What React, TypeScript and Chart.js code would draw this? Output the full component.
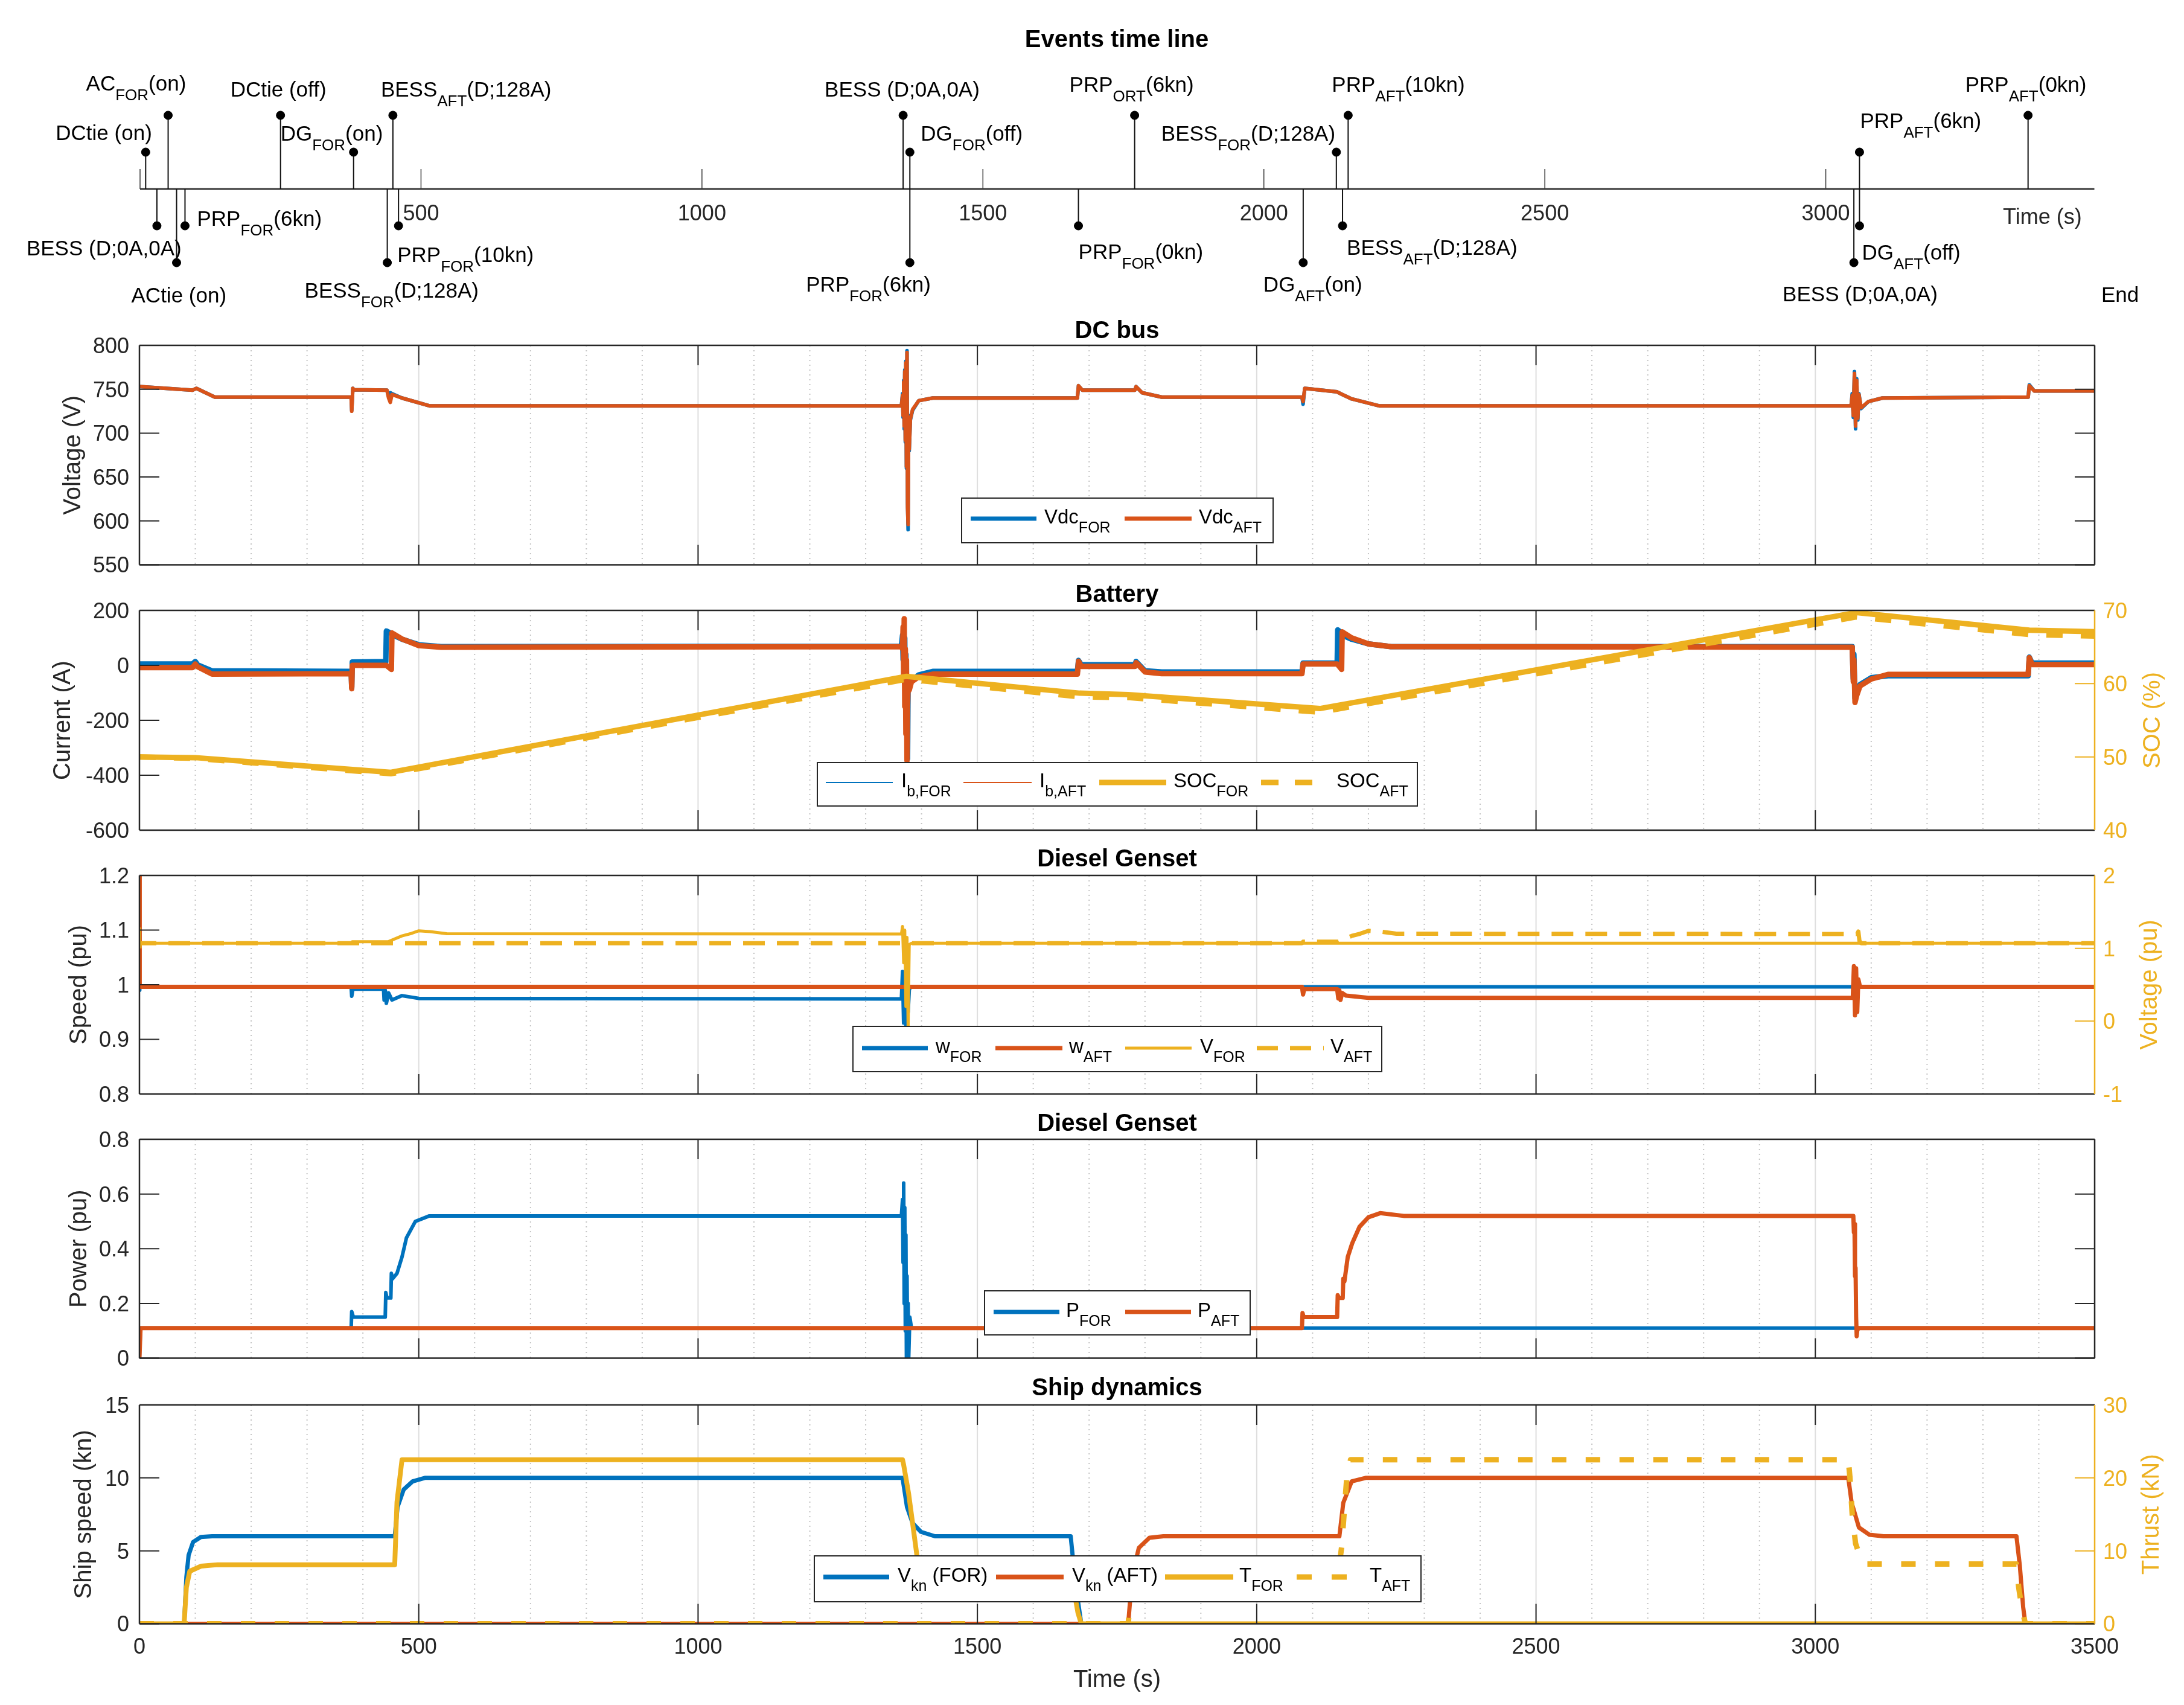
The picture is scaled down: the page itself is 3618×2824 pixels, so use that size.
import React, { useEffect, useRef } from "react";
import { Chart, registerables } from "chart.js";

Chart.register(...registerables);

const W = 3618;
const H = 2824;
const FONT = "'Liberation Sans', Arial, Helvetica, sans-serif";
const BLUE = "#0072BD";
const ORANGE = "#D95319";
const YELLOW = "#EDB120";
const INK = "#262626";
const GRID_MAJOR = "#dedede";
const GRID_MINOR = "#c4c4c4";

// ================= DATA =================
// shared time axis ticks
const xTicks = [0, 500, 1000, 1500, 2000, 2500, 3000, 3500];
const xMinorTicks = [100, 200, 300, 400, 600, 700, 800, 900, 1100, 1200, 1300, 1400, 1600, 1700, 1800, 1900, 2100, 2200, 2300, 2400, 2600, 2700, 2800, 2900, 3100, 3200, 3300, 3400];

// Events time line
const timelineTicks = [0, 500, 1000, 1500, 2000, 2500, 3000];
const timelineTickLabels = [500, 1000, 1500, 2000, 2500, 3000];
const timelineEnd = 3478;
const eventTimes = [10, 50, 250, 380, 450, 1358, 1370, 1770, 2129, 2150, 3060, 3360, 30, 65, 80, 440, 460, 1370, 1670, 2070, 2140, 3050, 3060];
const eventLevels = [1, 2, 2, 1, 2, 2, 1, 2, 1, 2, 1, 2, -1, -2, -1, -2, -1, -2, -1, -2, -1, -2, -1];
const eventLabels = [
  "DCtie (on)", "AC_{FOR}(on)", "DCtie (off)", "DG_{FOR}(on)", "BESS_{AFT}(D;128A)", "BESS (D;0A,0A)",
  "DG_{FOR}(off)", "PRP_{ORT}(6kn)", "BESS_{FOR}(D;128A)", "PRP_{AFT}(10kn)", "PRP_{AFT}(6kn)", "PRP_{AFT}(0kn)",
  "BESS (D;0A,0A)", "ACtie (on)", "PRP_{FOR}(6kn)", "BESS_{FOR}(D;128A)", "PRP_{FOR}(10kn)", "PRP_{FOR}(6kn)",
  "PRP_{FOR}(0kn)", "DG_{AFT}(on)", "BESS_{AFT}(D;128A)", "BESS (D;0A,0A)", "DG_{AFT}(off)",
];

// DC bus
const dcTicks = [550, 600, 650, 700, 750, 800];
const vdcT = [0, 95, 102, 135, 379, 380, 382, 384, 443, 446, 449, 452, 470, 520, 1364, 1366, 1367, 1368, 1369, 1370, 1371, 1372, 1373, 1374, 1375, 1376, 1377, 1378, 1380, 1384, 1395, 1420, 1679, 1681, 1688, 1782, 1784, 1795, 1830, 2081, 2083, 2086, 2144, 2150, 2170, 2220, 3064, 3066, 3068, 3070, 3072, 3074, 3076, 3078, 3082, 3095, 3120, 3381, 3383, 3392, 3500];
const vdcFor = [753, 749, 751, 741, 741, 726, 751, 749.5, 749, 742, 746, 745, 740, 731, 731, 745, 718, 760, 705, 772, 690, 782, 660, 794, 620, 590, 720, 680, 715, 726, 737, 740, 740, 754, 749, 749, 753, 746, 741, 741, 733, 751, 747, 745, 739, 731, 731, 745, 718, 770, 705, 762, 715, 745, 728, 736, 740, 741, 755, 748, 748];
const vdcAft = [753, 749, 751, 741, 741, 725, 751, 749.5, 749, 740, 735, 744, 740, 731, 731, 743, 720, 758, 708, 770, 692, 780, 662, 792, 615, 596, 718, 682, 716, 727, 737, 740, 740, 754, 749, 749, 753, 746, 741, 741, 736, 751, 747, 745, 739, 731, 731, 743, 720, 768, 708, 760, 717, 744, 729, 736, 740, 741, 754, 748, 748];

// Battery
const ibTicks = [-600, -400, -200, 0, 200];
const socTicks = [40, 50, 60, 70];
const ibT = [0, 95, 100, 104, 130, 379, 380, 381, 441, 442, 451, 452, 470, 500, 540, 1364, 1366, 1367, 1368, 1369, 1370, 1371, 1372, 1373, 1374, 1375, 1376, 1378, 1382, 1395, 1420, 1679, 1681, 1686, 1782, 1784, 1800, 1830, 2081, 2083, 2144, 2145, 2152, 2153, 2170, 2200, 2240, 3066, 3068, 3069, 3071, 3074, 3080, 3100, 3130, 3381, 3383, 3388, 3500];
const ibFor = [5, 5, 14, 2, -20, -22, -80, 12, 14, 125, 116, 112, 95, 75, 68, 70, 110, 20, 125, -60, 100, -150, 40, -250, -100, -340, -50, -80, -55, -35, -22, -22, 18, 2, 2, 14, -20, -24, -24, 8, 8, 129, 118, 110, 95, 78, 68, 68, -50, 40, -120, -95, -70, -45, -38, -38, 30, 8, 8];
const ibAft = [-8, -8, 5, -5, -32, -30, -85, 0, 0, 0, -15, 118, 96, 72, 66, 68, 60, 140, -40, 170, -150, 60, -250, 20, -347, -150, -60, -90, -60, -42, -32, -32, 15, -4, -4, 10, -24, -30, -30, 5, 5, 3, -15, 122, 100, 78, 68, 66, -60, 20, -135, -110, -75, -50, -33, -33, 28, 3, 3];
const socT = [0, 100, 450, 1373, 1683, 1770, 2113, 3073, 3383, 3500];
const socFor = [50, 49.9, 47.9, 61.0, 58.7, 58.5, 56.6, 69.7, 67.3, 67.1];
const socAft = [50, 49.8, 47.7, 60.6, 58.2, 58.1, 56.1, 69.1, 66.7, 66.5];

// Diesel genset - speed & voltage
const wTicks = [0.8, 0.9, 1, 1.1, 1.2];
const vpuTicks = [-1, 0, 1, 2];
const wT = [0, 0.5, 379, 380, 382, 437, 438, 440, 442, 446, 452, 470, 500, 1364, 1366, 1368, 1370, 1372, 1374, 1376, 1378, 1380, 2081, 2083, 2085, 2144, 2146, 2148, 2150, 2153, 2160, 2200, 3067, 3069, 3071, 3073, 3075, 3077, 3080, 3500];
const wFor = [0.99, 0.996, 0.996, 0.979, 0.992, 0.992, 0.972, 0.99, 0.966, 0.985, 0.972, 0.98, 0.975, 0.974, 1.024, 0.93, 1.02, 0.925, 1.01, 0.95, 0.99, 0.996, 0.996, 0.996, 0.996, 0.996, 0.996, 0.996, 0.996, 0.996, 0.996, 0.996, 0.996, 0.996, 0.996, 0.996, 0.996, 0.996, 0.996, 0.996];
const wAft = [1.2, 0.996, 0.996, 0.996, 0.996, 0.996, 0.996, 0.996, 0.996, 0.996, 0.996, 0.996, 0.996, 0.996, 0.996, 0.996, 0.996, 0.996, 0.996, 0.996, 0.996, 0.996, 0.996, 0.982, 0.992, 0.992, 0.975, 0.99, 0.972, 0.985, 0.98, 0.976, 0.976, 1.034, 0.944, 1.03, 0.95, 1.01, 0.996, 0.996];
const vT = [0, 0.5, 379, 381, 445, 470, 485, 500, 520, 550, 1364, 1366, 1368, 1370, 1372, 1374, 1376, 1378, 1382, 2081, 2083, 2145, 2170, 2185, 2200, 2220, 2250, 3075, 3077, 3079, 3082, 3500];
const vFor = [1.27, 1.07, 1.07, 1.09, 1.09, 1.17, 1.2, 1.24, 1.23, 1.2, 1.196, 1.3, 0.8, 1.25, 0.2, 1.15, -0.1, 1.05, 1.07, 1.07, 1.07, 1.07, 1.07, 1.07, 1.07, 1.07, 1.07, 1.07, 1.07, 1.07, 1.07, 1.07];
const vAft = [1.0, 1.07, 1.07, 1.07, 1.07, 1.07, 1.07, 1.07, 1.07, 1.07, 1.07, 1.07, 1.07, 1.07, 1.07, 1.07, 1.07, 1.07, 1.07, 1.07, 1.09, 1.09, 1.17, 1.2, 1.24, 1.23, 1.2, 1.196, 1.23, 1.1, 1.07, 1.07];

// Diesel genset - power
const pTicks = [0, 0.2, 0.4, 0.6, 0.8];
const pT = [0, 2, 379, 380, 383, 440, 441, 443, 450, 451, 453, 461, 470, 478, 494, 519, 1364, 1366, 1367, 1368, 1369, 1370, 1371, 1372, 1373, 1374, 1375, 1376, 1377, 1379, 1382, 2081, 2082, 2084, 2144, 2145, 2147, 2154, 2155, 2157, 2163, 2171, 2184, 2200, 2221, 2263, 3068, 3069, 3070, 3071, 3072, 3073, 3074, 3075, 3077, 3500];
const pFor = [0, 0.11, 0.11, 0.17, 0.15, 0.15, 0.24, 0.22, 0.22, 0.31, 0.29, 0.31, 0.37, 0.44, 0.5, 0.52, 0.52, 0.58, 0.35, 0.64, 0.2, 0.55, 0.1, 0.45, 0.0, 0.3, 0.05, 0.2, 0.0, 0.15, 0.11, 0.11, 0.11, 0.11, 0.11, 0.11, 0.11, 0.11, 0.11, 0.11, 0.11, 0.11, 0.11, 0.11, 0.11, 0.11, 0.11, 0.11, 0.11, 0.11, 0.11, 0.11, 0.11, 0.11, 0.11, 0.11];
const pAft = [0, 0.11, 0.11, 0.11, 0.11, 0.11, 0.11, 0.11, 0.11, 0.11, 0.11, 0.11, 0.11, 0.11, 0.11, 0.11, 0.11, 0.11, 0.11, 0.11, 0.11, 0.11, 0.11, 0.11, 0.11, 0.11, 0.11, 0.11, 0.11, 0.11, 0.11, 0.11, 0.165, 0.15, 0.15, 0.23, 0.22, 0.22, 0.29, 0.28, 0.37, 0.42, 0.48, 0.515, 0.53, 0.52, 0.52, 0.46, 0.49, 0.3, 0.33, 0.15, 0.08, 0.1, 0.11, 0.11];

// Ship dynamics
const knTicks = [0, 5, 10, 15];
const thrustTicks = [0, 10, 20, 30];
const vknForT = [0, 80, 84, 88, 96, 110, 130, 457, 462, 473, 489, 511, 1366, 1374, 1384, 1399, 1424, 1667, 1676, 1686, 3500];
const vknFor = [0, 0, 3.2, 4.7, 5.6, 5.95, 6.0, 6.0, 8.0, 9.2, 9.76, 10.0, 10.0, 8.0, 6.9, 6.3, 6.0, 6.0, 2.6, 0, 0];
const vknAftT = [0, 1770, 1777, 1789, 1808, 1833, 2148, 2155, 2170, 2195, 3059, 3065, 3078, 3097, 3122, 3360, 3366, 3372, 3376, 3500];
const vknAft = [0, 0, 3.3, 5.2, 5.9, 6.0, 6.0, 8.3, 9.76, 10.0, 10.0, 8.3, 6.6, 6.1, 6.0, 6.0, 4.0, 1.15, 0, 0];
const tForT = [0, 80, 84, 90, 110, 140, 457, 461, 470, 1366, 1368, 1377, 1384, 1392, 1400, 1420, 1666, 1672, 1680, 1686, 3500];
const tFor = [0, 0, 5, 7.2, 7.9, 8.1, 8.1, 16.7, 22.5, 22.5, 21.8, 17.8, 13.8, 9.2, 8.4, 8.1, 8.1, 5, 1.5, 0, 0];
const tAftT = [0, 1770, 1774, 1780, 1800, 1830, 2148, 2152, 2161, 2168, 3059, 3062, 3066, 3072, 3082, 3090, 3360, 3364, 3370, 3376, 3500];
const tAft = [0, 0, 4, 7, 8, 8.1, 8.1, 10.5, 19.8, 22.5, 22.5, 20, 15, 11, 8.8, 8.2, 8.2, 5, 2, 0, 0];

// ================= LAYOUT (pixels) =================
const PLOT_LEFT = 231;
const PLOT_RIGHT = 3470;
const TL_LEFT = 232;
const TL_RIGHT = 3490;
const TL_AXIS_Y = 313;
const eventLabelDx = [-149, -136, -83, -121, -20, -130, 18, -108, -290, -27, 1, -104, -216, -75, 20, -137, -2, -172, 0, -66, 7, -118, 4];
const eventLabelDy = [-94, -176, -166, -93, -166, -166, -93, -174, -93, -174, -114, -174, 97, 175, 48, 167, 108, 157, 103, 157, 96, 173, 104];

type Pt = { x: number; y: number | null };
const xy = (t: number[], v: number[]): Pt[] => t.map((x, i) => ({ x, y: v[i] }));

// ================= TEXT HELPERS =================
function setFont(ctx: CanvasRenderingContext2D, size: number, bold = false) {
  ctx.font = `${bold ? "bold " : ""}${size}px ${FONT}`;
}
function text(ctx: CanvasRenderingContext2D, s: string, x: number, yMid: number, size: number, o: { align?: CanvasTextAlign; bold?: boolean; color?: string } = {}) {
  setFont(ctx, size, o.bold);
  ctx.fillStyle = o.color || INK;
  ctx.textAlign = o.align || "left";
  ctx.textBaseline = "alphabetic";
  ctx.fillText(s, x, yMid + size * 0.358);
}
function vtext(ctx: CanvasRenderingContext2D, s: string, x: number, yMid: number, size: number, color: string) {
  ctx.save();
  ctx.translate(x, yMid);
  ctx.rotate(-Math.PI / 2);
  setFont(ctx, size);
  ctx.fillStyle = color;
  ctx.textAlign = "center";
  ctx.textBaseline = "middle";
  ctx.fillText(s, 0, 0);
  ctx.restore();
}
function parseRich(s: string) {
  const parts: { t: string; sub: boolean }[] = [];
  const re = /_\{([^}]*)\}/g;
  let last = 0;
  let m: RegExpExecArray | null;
  while ((m = re.exec(s))) {
    if (m.index > last) parts.push({ t: s.slice(last, m.index), sub: false });
    parts.push({ t: m[1], sub: true });
    last = re.lastIndex;
  }
  if (last < s.length) parts.push({ t: s.slice(last), sub: false });
  return parts;
}
function drawRich(ctx: CanvasRenderingContext2D, s: string, x: number, yMid: number, size: number, subSize: number, subShift: number, color = "#000") {
  const base = yMid + size * 0.358;
  let cx = x;
  ctx.fillStyle = color;
  ctx.textAlign = "left";
  ctx.textBaseline = "alphabetic";
  for (const p of parseRich(s)) {
    setFont(ctx, p.sub ? subSize : size);
    ctx.fillText(p.t, cx, p.sub ? base + subShift : base);
    cx += ctx.measureText(p.t).width;
  }
}
function seg(ctx: CanvasRenderingContext2D, x1: number, y1: number, x2: number, y2: number) {
  ctx.beginPath();
  ctx.moveTo(x1, y1);
  ctx.lineTo(x2, y2);
  ctx.stroke();
}

// ================= PANELS =================
interface SeriesSpec { t: number[]; v: number[]; color: string; width: number; dash?: number[]; axis?: string }
interface LegendItem { x1: number; x2: number; tx: number; label: string; color: string; width: number; dash?: number[] }
interface AxisSpec { min: number; max: number; ticks: number[]; label: string; labelX: number }
interface PanelSpec {
  key: string; top: number; height: number; plotTop: number; plotBottom: number;
  title: string; titleY: number; left: AxisSpec; right?: AxisSpec; series: SeriesSpec[];
  legend: { box: number[]; lineY: number; items: LegendItem[] }; xLabels?: boolean;
}

const panels: PanelSpec[] = [
  {
    key: "dc", top: 500, height: 475, plotTop: 572, plotBottom: 935.5, title: "DC bus", titleY: 546,
    left: { min: 550, max: 800, ticks: dcTicks, label: "Voltage (V)", labelX: 122 },
    series: [
      { t: vdcT, v: vdcFor, color: BLUE, width: 6 },
      { t: vdcT, v: vdcAft, color: ORANGE, width: 6 },
    ],
    legend: {
      box: [1593, 825, 2109, 899], lineY: 859, items: [
        { x1: 1608, x2: 1717, tx: 1730, label: "Vdc_{FOR}", color: BLUE, width: 7 },
        { x1: 1863, x2: 1974, tx: 1986, label: "Vdc_{AFT}", color: ORANGE, width: 7 },
      ],
    },
  },
  {
    key: "bat", top: 940, height: 475, plotTop: 1011, plotBottom: 1375, title: "Battery", titleY: 983,
    left: { min: -600, max: 200, ticks: ibTicks, label: "Current (A)", labelX: 105 },
    right: { min: 40, max: 70, ticks: socTicks, label: "SOC (%)", labelX: 3567 },
    series: [
      { t: ibT, v: ibFor, color: BLUE, width: 9 },
      { t: ibT, v: ibAft, color: ORANGE, width: 9 },
      { t: socT, v: socFor, color: YELLOW, width: 9, axis: "y2" },
      { t: socT, v: socAft, color: YELLOW, width: 9, dash: [27, 30], axis: "y2" },
    ],
    legend: {
      box: [1354, 1263, 2348, 1335], lineY: 1296, items: [
        { x1: 1368, x2: 1479, tx: 1493, label: "I_{b,FOR}", color: BLUE, width: 2 },
        { x1: 1596, x2: 1709, tx: 1722, label: "I_{b,AFT}", color: ORANGE, width: 2 },
        { x1: 1821, x2: 1932, tx: 1944, label: "SOC_{FOR}", color: YELLOW, width: 9 },
        { x1: 2089, x2: 2200, tx: 2214, label: "SOC_{AFT}", color: YELLOW, width: 9, dash: [29, 27] },
      ],
    },
  },
  {
    key: "spd", top: 1380, height: 470, plotTop: 1450, plotBottom: 1812, title: "Diesel Genset", titleY: 1421,
    left: { min: 0.8, max: 1.2, ticks: wTicks, label: "Speed (pu)", labelX: 132 },
    right: { min: -1, max: 2, ticks: vpuTicks, label: "Voltage (pu)", labelX: 3562 },
    series: [
      { t: wT, v: wFor, color: BLUE, width: 6 },
      { t: wT, v: wAft, color: ORANGE, width: 7 },
      { t: vT, v: vFor, color: YELLOW, width: 5, axis: "y2" },
      { t: vT, v: vAft, color: YELLOW, width: 7, dash: [36, 20], axis: "y2" },
    ],
    legend: {
      box: [1413, 1700, 2289, 1775], lineY: 1736, items: [
        { x1: 1428, x2: 1537, tx: 1550, label: "w_{FOR}", color: BLUE, width: 7 },
        { x1: 1649, x2: 1760, tx: 1771, label: "w_{AFT}", color: ORANGE, width: 7 },
        { x1: 1864, x2: 1974, tx: 1988, label: "V_{FOR}", color: YELLOW, width: 5 },
        { x1: 2082, x2: 2193, tx: 2204, label: "V_{AFT}", color: YELLOW, width: 7, dash: [35, 20] },
      ],
    },
  },
  {
    key: "pow", top: 1815, height: 475, plotTop: 1887, plotBottom: 2249.5, title: "Diesel Genset", titleY: 1859,
    left: { min: 0, max: 0.8, ticks: pTicks, label: "Power (pu)", labelX: 132 },
    series: [
      { t: pT, v: pFor, color: BLUE, width: 6 },
      { t: pT, v: pAft, color: ORANGE, width: 7 },
    ],
    legend: {
      box: [1631, 2138, 2071, 2211], lineY: 2173, items: [
        { x1: 1646, x2: 1755, tx: 1766, label: "P_{FOR}", color: BLUE, width: 7 },
        { x1: 1864, x2: 1973, tx: 1984, label: "P_{AFT}", color: ORANGE, width: 7 },
      ],
    },
  },
  {
    key: "ship", top: 2255, height: 569, plotTop: 2327, plotBottom: 2689.5, title: "Ship dynamics", titleY: 2297,
    left: { min: 0, max: 15, ticks: knTicks, label: "Ship speed (kn)", labelX: 140 },
    right: { min: 0, max: 30, ticks: thrustTicks, label: "Thrust (kN)", labelX: 3565 },
    series: [
      { t: vknForT, v: vknFor, color: BLUE, width: 7 },
      { t: vknAftT, v: vknAft, color: ORANGE, width: 7 },
      { t: tForT, v: tFor, color: YELLOW, width: 8, axis: "y2" },
      { t: tAftT, v: tAft, color: YELLOW, width: 9, dash: [24, 32], axis: "y2" },
    ],
    legend: {
      box: [1349, 2577, 2354, 2653], lineY: 2612, items: [
        { x1: 1364, x2: 1473, tx: 1487, label: "V_{kn} (FOR)", color: BLUE, width: 8 },
        { x1: 1650, x2: 1762, tx: 1776, label: "V_{kn} (AFT)", color: ORANGE, width: 8 },
        { x1: 1930, x2: 2043, tx: 2053, label: "T_{FOR}", color: YELLOW, width: 9 },
        { x1: 2148, x2: 2259, tx: 2269, label: "T_{AFT}", color: YELLOW, width: 9, dash: [25, 33] },
      ],
    },
    xLabels: true,
  },
];

function panelPlugin(p: PanelSpec) {
  const off = (y: number) => y - p.top;
  return {
    id: "matlab_" + p.key,
    beforeDatasetsDraw(chart: any) {
      const { ctx, chartArea: a, scales } = chart;
      const sx = scales.x;
      ctx.save();
      ctx.lineWidth = 2;
      ctx.strokeStyle = GRID_MINOR;
      ctx.setLineDash([2, 6]);
      for (const v of xMinorTicks) {
        const px = sx.getPixelForValue(v);
        seg(ctx, px, a.top, px, a.bottom);
      }
      ctx.setLineDash([]);
      ctx.strokeStyle = GRID_MAJOR;
      for (const v of xTicks) {
        if (v <= 0 || v >= 3500) continue;
        const px = sx.getPixelForValue(v);
        seg(ctx, px, a.top, px, a.bottom);
      }
      ctx.restore();
    },
    afterDatasetsDraw(chart: any) {
      const { ctx, chartArea: a, scales } = chart;
      const sx = scales.x;
      const sy = scales.y;
      const sy2 = scales.y2;
      const TL = 33;
      ctx.save();
      ctx.setLineDash([]);
      ctx.lineCap = "butt";
      // x ticks (inward, top & bottom)
      ctx.strokeStyle = INK;
      ctx.lineWidth = 2;
      for (const v of xTicks) {
        const px = sx.getPixelForValue(v);
        seg(ctx, px, a.top, px, a.top + TL);
        seg(ctx, px, a.bottom, px, a.bottom - TL);
      }
      // left y ticks
      for (const v of p.left.ticks) {
        const py = sy.getPixelForValue(v);
        seg(ctx, a.left, py, a.left + TL, py);
        if (!p.right) seg(ctx, a.right, py, a.right - TL, py);
      }
      if (p.right && sy2) {
        ctx.strokeStyle = YELLOW;
        for (const v of p.right.ticks) {
          const py = sy2.getPixelForValue(v);
          seg(ctx, a.right, py, a.right - TL, py);
        }
      }
      // frame
      ctx.lineWidth = 2.5;
      ctx.strokeStyle = INK;
      seg(ctx, a.left, a.top, a.right, a.top);
      seg(ctx, a.left, a.bottom, a.right, a.bottom);
      seg(ctx, a.left, a.top, a.left, a.bottom);
      ctx.strokeStyle = p.right ? YELLOW : INK;
      seg(ctx, a.right, a.top, a.right, a.bottom);

      // tick labels
      for (const v of p.left.ticks) {
        text(ctx, String(v), a.left - 17, sy.getPixelForValue(v), 36, { align: "right", color: INK });
      }
      if (p.right && sy2) {
        for (const v of p.right.ticks) {
          text(ctx, String(v), a.right + 14, sy2.getPixelForValue(v), 36, { align: "left", color: YELLOW });
        }
      }
      // axis labels
      const midY = (a.top + a.bottom) / 2;
      vtext(ctx, p.left.label, p.left.labelX, midY, 40, INK);
      if (p.right) vtext(ctx, p.right.label, p.right.labelX, midY, 40, YELLOW);
      // title
      text(ctx, p.title, (a.left + a.right) / 2, off(p.titleY), 40, { align: "center", bold: true, color: "#000" });
      // bottom x labels
      if (p.xLabels) {
        for (const v of xTicks) {
          text(ctx, String(v), sx.getPixelForValue(v), off(2726), 36, { align: "center", color: INK });
        }
        text(ctx, "Time (s)", (a.left + a.right) / 2, off(2780), 40, { align: "center", color: INK });
      }
      // legend
      const [bx1, by1, bx2, by2] = p.legend.box;
      ctx.fillStyle = "#ffffff";
      ctx.fillRect(bx1, off(by1), bx2 - bx1, by2 - by1);
      ctx.lineWidth = 2;
      ctx.strokeStyle = INK;
      ctx.strokeRect(bx1, off(by1), bx2 - bx1, by2 - by1);
      const ly = off(p.legend.lineY);
      for (const it of p.legend.items) {
        ctx.save();
        ctx.strokeStyle = it.color;
        ctx.lineWidth = it.width;
        ctx.setLineDash(it.dash || []);
        seg(ctx, it.x1, ly, it.x2, ly);
        ctx.restore();
        drawRich(ctx, it.label, it.tx, ly - 4, 33, 25, 15, "#000");
      }
      ctx.restore();
    },
  };
}

function buildPanelConfig(p: PanelSpec): any {
  const n = p.series.length;
  const datasets = p.series.map((s, i) => ({
    data: xy(s.t, s.v),
    borderColor: s.color,
    backgroundColor: s.color,
    borderWidth: s.width,
    borderDash: s.dash || [],
    borderJoinStyle: "round",
    borderCapStyle: "butt",
    pointRadius: 0,
    pointHoverRadius: 0,
    fill: false,
    tension: 0,
    yAxisID: s.axis || "y",
    order: n - i,
  }));
  const scales: any = {
    x: { type: "linear", display: false, min: 0, max: 3500 },
    y: { type: "linear", display: false, position: "left", min: p.left.min, max: p.left.max },
  };
  if (p.right) scales.y2 = { type: "linear", display: false, position: "right", min: p.right.min, max: p.right.max };
  return {
    type: "line",
    data: { datasets },
    options: {
      animation: false,
      responsive: false,
      maintainAspectRatio: false,
      events: [],
      layout: {
        padding: { left: PLOT_LEFT, right: W - PLOT_RIGHT, top: p.plotTop - p.top, bottom: p.top + p.height - p.plotBottom },
      },
      scales,
      plugins: { legend: { display: false }, tooltip: { enabled: false }, title: { display: false } },
    },
    plugins: [panelPlugin(p)],
  };
}

const timelinePlugin = {
  id: "timeline",
  beforeDatasetsDraw(chart: any) {
    const { ctx, scales } = chart;
    const x = scales.x;
    const y0 = scales.y.getPixelForValue(0);
    ctx.save();
    ctx.strokeStyle = "#3a3a3a";
    ctx.lineWidth = 3;
    seg(ctx, x.getPixelForValue(0), y0, x.getPixelForValue(timelineEnd), y0);
    ctx.lineWidth = 1.5;
    for (const v of timelineTicks) {
      const px = x.getPixelForValue(v);
      seg(ctx, px, y0, px, y0 - 33);
    }
    ctx.restore();
  },
  afterDatasetsDraw(chart: any) {
    const { ctx, chartArea: a, scales } = chart;
    const x = scales.x;
    const y0 = scales.y.getPixelForValue(0);
    ctx.save();
    for (const v of timelineTickLabels) {
      text(ctx, String(v), x.getPixelForValue(v), y0 + 39, 36, { align: "center", color: INK });
    }
    text(ctx, "Time (s)", 3318, y0 + 45, 36, { align: "left", color: INK });
    text(ctx, "End", 3481, 487, 35, { align: "left", color: "#000" });
    eventTimes.forEach((t, i) => {
      const px = x.getPixelForValue(t);
      drawRich(ctx, eventLabels[i], px + eventLabelDx[i], y0 + eventLabelDy[i], 35, 26, 16, "#000");
    });
    text(ctx, "Events time line", 1850, 64, 40, { align: "center", bold: true, color: "#000" });
    ctx.restore();
  },
};

function buildTimelineConfig(): any {
  const stems: Pt[] = [];
  eventTimes.forEach((t, i) => {
    stems.push({ x: t, y: 0 }, { x: t, y: eventLevels[i] }, { x: t, y: null });
  });
  const tips = xy(eventTimes, eventLevels);
  return {
    type: "line",
    data: {
      datasets: [
        { data: stems, borderColor: "#111", borderWidth: 2, pointRadius: 0, pointHoverRadius: 0, spanGaps: false, fill: false, order: 2 },
        { data: tips, showLine: false, pointRadius: 7, pointHoverRadius: 7, pointBackgroundColor: "#000", pointBorderColor: "#000", pointBorderWidth: 1, order: 1 },
      ],
    },
    options: {
      animation: false,
      responsive: false,
      maintainAspectRatio: false,
      events: [],
      layout: { padding: { left: TL_LEFT, right: W - TL_RIGHT, top: TL_AXIS_Y - 183, bottom: 520 - (TL_AXIS_Y + 183) } },
      scales: {
        x: { type: "linear", display: false, min: 0, max: 3500 },
        y: { type: "linear", display: false, min: -3, max: 3 },
      },
      plugins: { legend: { display: false }, tooltip: { enabled: false }, title: { display: false } },
    },
    plugins: [timelinePlugin],
  };
}

function ChartCanvas({ top, height, make }: { top: number; height: number; make: () => any }) {
  const ref = useRef<HTMLCanvasElement | null>(null);
  useEffect(() => {
    if (!ref.current) return;
    const chart = new Chart(ref.current, make());
    return () => chart.destroy();
  }, []);
  return (
    <canvas
      ref={ref}
      width={W}
      height={height}
      style={{ position: "absolute", left: 0, top, width: W, height, display: "block" }}
    />
  );
}

export default function App() {
  useEffect(() => {
    document.body.style.margin = "0";
    document.body.style.background = "#ffffff";
  }, []);
  return (
    <div style={{ position: "absolute", left: 0, top: 0, width: W, height: H, background: "#ffffff", overflow: "hidden" }}>
      <ChartCanvas top={0} height={520} make={buildTimelineConfig} />
      {panels.map((p) => (
        <ChartCanvas key={p.key} top={p.top} height={p.height} make={() => buildPanelConfig(p)} />
      ))}
    </div>
  );
}
